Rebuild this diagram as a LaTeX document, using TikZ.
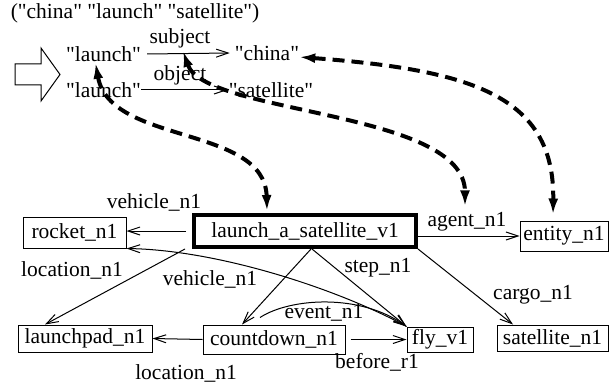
\documentclass[tikz,border=0pt]{standalone}
\usepackage{fontspec}
\setmainfont{Liberation Serif}[Ligatures=TeXOff]
\usetikzlibrary{arrows.meta,calc}
\begin{document}
\begin{tikzpicture}[x=1pt,y=-1pt,
  every node/.style={font=\fontsize{21.5}{24}\selectfont, inner sep=0pt},
  box/.style={draw, line width=1pt},
  edge/.style={line width=1pt, -{Straight Barb[length=12pt,width=8pt]}},
  dashlink/.style={line width=4pt, dash pattern=on 12pt off 7pt,
    {Latex[length=16pt,width=10pt]}-{Latex[length=16pt,width=10pt]}}]
\useasboundingbox (0,0) rectangle (609,385);

% title and input arrow
\node (title) at (135,13) {("china" "launch" "satellite")};
\draw[line width=1pt] (15,64) -- (41,64) -- (41,48) -- (60,74.5) -- (41,101) -- (41,85) -- (15,85) -- cycle;

% top graph
\node (la1) at (103.5,54) {"launch"};
\node (la2) at (103.5,90) {"launch"};
\node (china) at (267,53) {"china"};
\node (sat) at (271,90) {"satellite"};
\node (subj) at (180,38) {subject};
\node (obj) at (180,75) {object};
\draw[edge] ([xshift=6pt]la1.east) -- ([xshift=-5pt]china.west);
\draw[edge] (la2.east) -- ([xshift=-1pt]sat.west);

% lower graph boxes
\node[box, minimum width=103pt, minimum height=31pt] (rocket) at (74.5,232.5) {rocket\_n1};
\node[draw, line width=4pt, minimum width=222pt, minimum height=32pt] (las) at (305,231) {launch\_a\_satellite\_v1};
\node[box, minimum width=88pt, minimum height=30pt] (entity) at (564,236) {entity\_n1};
\node[box, minimum width=134pt, minimum height=27pt] (launchpad) at (85,338.5) {launchpad\_n1};
\node[box, minimum width=142pt, minimum height=29pt] (countdown) at (274,339.5) {countdown\_n1};
\node[box, minimum width=66pt, minimum height=25pt] (fly) at (440,339.5) {fly\_v1};
\node[box, minimum width=111pt, minimum height=26pt] (satellite) at (552.5,338) {satellite\_n1};

% labels
\node (l1) at (154,202) {vehicle\_n1};
\node (agent) at (467,222) {agent\_n1};
\node (l3) at (72,270) {location\_n1};
\node (l4) at (210,279) {vehicle\_n1};
\node (l5) at (378,268) {step\_n1};
\node (l6) at (533,295) {cargo\_n1};
\node (l7) at (324,313) {event\_n1};
\node (l8) at (377,362) {before\_r1};
\node (l9) at (186,373) {location\_n1};

% edges
\draw[edge] ([xshift=-6pt]las.west) -- (las.west -| rocket.east);
\draw[edge] ([yshift=-5pt]las.east) -- (entity.west);
\draw[edge] ([xshift=-7pt]las.south west) -- ([xshift=-40pt]launchpad.north);
\draw[edge] ([xshift=6pt]las.south) -- ([xshift=-32pt]countdown.north);
\draw[edge] ([xshift=7pt]las.south) -- (fly.north west);
\draw[edge] (las.south east) -- ([xshift=-39.5pt]satellite.north);
\draw[edge] (countdown.west) -- (launchpad.east);
\draw[edge] ([xshift=5pt]countdown.east) -- (fly.west);
\draw[edge] ([xshift=-14pt,yshift=7pt]countdown.north) .. controls (290,298) and (360,293) .. (fly.north west);
\draw[edge] (fly.north west) .. controls (340,290) and (220,250) .. (rocket.south east);

% dashed mapping links
\draw[dashlink] ([xshift=-8pt,yshift=-1pt]la1.south) .. controls (110,145) and (265,125) .. ([xshift=-38pt,yshift=2pt]las.north);
\draw[dashlink] ([xshift=3pt,yshift=-3pt]subj.south) .. controls (205,115) and (465,110) .. ([xshift=-2pt,yshift=6pt]agent.north);
\draw[dashlink] ([yshift=-4pt]china.east) .. controls (470,70) and (555,95) .. ([xshift=-11pt,yshift=6pt]entity.north);
\end{tikzpicture}
\end{document}
